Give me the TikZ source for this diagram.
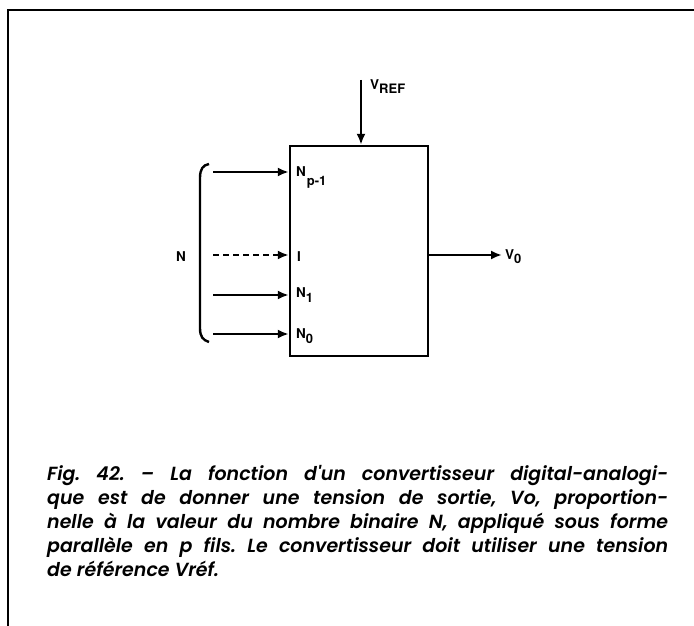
\documentclass[tikz,border=0pt]{standalone}
\usepackage{fontspec}
\setmainfont{TeX Gyre Heros}
\newfontfamily\capfont{Poppins SemiBold}[ItalicFont=Poppins SemiBold Italic]
\usetikzlibrary{arrows.meta}
\newcommand{\lowsub}[2]{\raisebox{-#1}{\fontsize{13}{13}\selectfont #2}}
\tikzset{
  wire/.style={line width=2.4pt,-{Latex[length=11pt,width=9pt]}},
  dwire/.style={wire,dash pattern=on 6pt off 4pt},
  pinlbl/.style={anchor=west,inner sep=0pt,font=\bfseries\fontsize{13.5}{13.5}\selectfont},
  frameline/.style={line width=2.6pt},
  dacbox/.style={draw,line width=2.4pt,minimum width=138pt,minimum height=210pt,inner sep=0pt}
}
\begin{document}
\begin{tikzpicture}[x=1pt,y=-1pt]
\useasboundingbox (0,0) rectangle (694,626);
% frame
\draw[frameline] (7,10) -- (694,10);
\draw[frameline] (8,10) -- (8,626);
% converter box
\node[dacbox] (dac) at (359,251) {};
% reference input
\coordinate (vref0) at (361,80);
\draw[wire] (vref0) -- (dac.north -| vref0);
\node[pinlbl,anchor=base west] (vrefl) at (370,90) {V\lowsub{4pt}{REF}};
% inputs
\coordinate (s1) at (213,172);
\coordinate (si) at (213,255);
\coordinate (s2) at (213,295);
\coordinate (s3) at (213,334);
\coordinate (e1) at (dac.west |- s1);
\coordinate (ei) at (dac.west |- si);
\coordinate (e2) at (dac.west |- s2);
\coordinate (e3) at (dac.west |- s3);
\draw[wire] (s1) -- (e1);
\draw[dwire] (si) -- (ei);
\draw[wire] (s2) -- (e2);
\draw[wire] (s3) -- (e3);
\node[pinlbl,anchor=base west] (l1) at (296,176) {N\hspace{1pt}\lowsub{9pt}{p-1}};
\node[pinlbl,anchor=base west] (li) at (297,261) {I};
\node[pinlbl,anchor=base west] (l2) at (296,297) {N\lowsub{5pt}{1}};
\node[pinlbl,anchor=base west] (l3) at (296,338) {N\lowsub{5pt}{0}};
% brace and N
\draw[line width=2.4pt] (209,164) .. controls (203,165) and (200,169) .. (200,178) -- (200,328) .. controls (200,337) and (203,340) .. (209,342);
\node[pinlbl,anchor=base] (nlbl) at (181,261) {N};
% output
\coordinate (o1) at (dac.east |- 0,255);
\coordinate (o2) at (502,255);
\draw[wire] (o1) -- (o2);
\node[pinlbl,anchor=base west] (vo) at (505,259) {V\lowsub{4pt}{0}};
% caption
\node[anchor=north west,inner sep=0pt,text width=621pt,align=justify,
      font=\capfont\itshape\fontsize{19}{24}\selectfont] (cap) at (47,465)
{\frenchspacing Fig. 42. – La fonction d'un convertisseur digital-analogi-\linebreak
que est de donner une tension de sortie, Vo, proportion-\linebreak
nelle à la valeur du nombre binaire N, appliqué sous forme\linebreak
parallèle en p fils. Le convertisseur doit utiliser une tension\linebreak
de référence Vréf.};
\end{tikzpicture}
\end{document}
